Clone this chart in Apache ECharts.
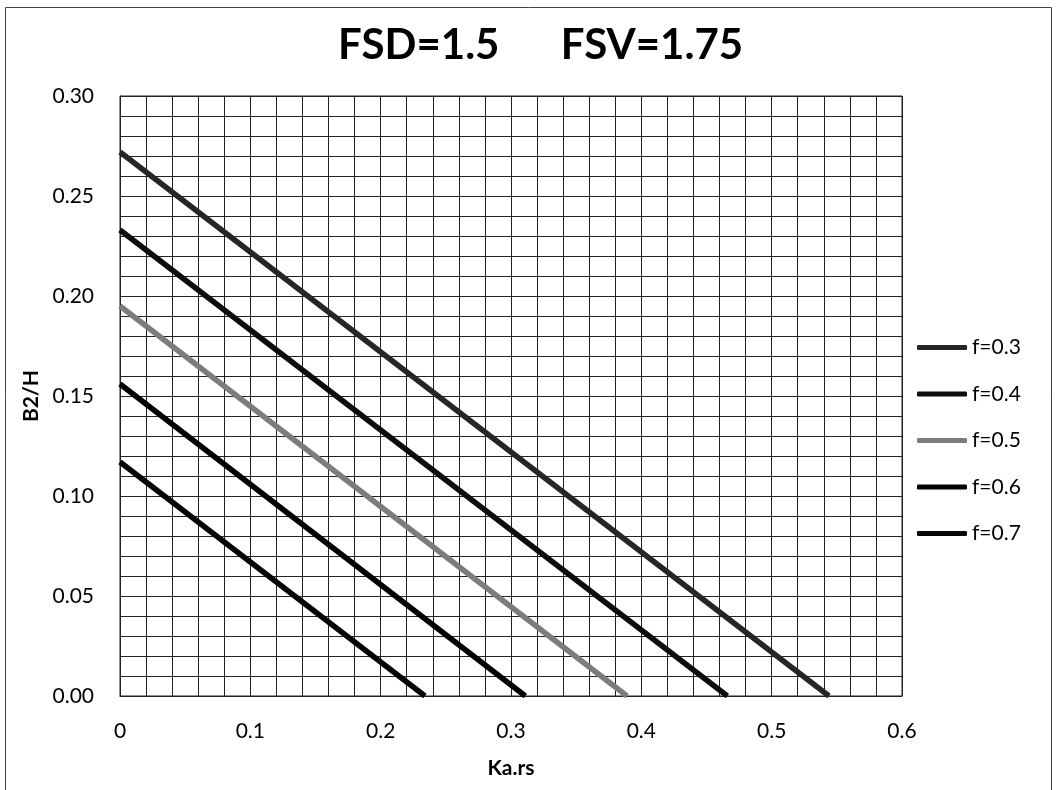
<!DOCTYPE html>
<html>
<head>
<meta charset="utf-8">
<script src="https://cdn.jsdelivr.net/npm/echarts@6/dist/echarts.min.js"></script>
<style>
html,body{margin:0;padding:0;background:#fff;}
#chart{width:1056px;height:790px;}
</style>
</head>
<body>
<div id="chart"></div>
<script>
const seriesNames = ['f=0.3','f=0.4','f=0.5','f=0.6','f=0.7'];
const startB2H = [0.272, 0.233, 0.195, 0.156, 0.117]; // value at Ka.rs = 0
const endKars = [0.544, 0.466, 0.389, 0.311, 0.234];  // Ka.rs where B2/H = 0
const seriesColors = ['#262626', '#0d0d0d', '#7c7c7c', '#000000', '#050505'];
const xTicks = ['0','0.1','0.2','0.3','0.4','0.5','0.6'];
const titleText = 'FSD=1.5      FSV=1.75';

const FONT = 'Lato';
const chart = echarts.init(document.getElementById('chart'));

const series = seriesNames.map((name, i) => ({
  name: name,
  type: 'line',
  data: [[0, startB2H[i]], [endKars[i], 0]],
  showSymbol: false,
  symbol: 'none',
  lineStyle: { width: 5.5, color: seriesColors[i] },
  itemStyle: { color: seriesColors[i] },
  silent: true,
  z: 5
}));

chart.setOption({
  animation: false,
  backgroundColor: '#fff',
  textStyle: { fontFamily: FONT },
  title: {
    text: titleText,
    left: 333,
    top: 19,
    textStyle: { fontFamily: FONT, fontSize: 42, fontWeight: 'bold', color: '#000' }
  },
  graphic: [{
    type: 'rect',
    shape: { x: 5.5, y: 7.5, width: 1046, height: 800 },
    style: { fill: 'none', stroke: '#444', lineWidth: 1 },
    silent: true
  }],
  legend: {
    orient: 'vertical',
    left: 912,
    top: 332,
    itemWidth: 50,
    itemHeight: 5,
    itemGap: 25.5,
    icon: 'roundRect',
    data: seriesNames,
    textStyle: { fontFamily: FONT, fontSize: 21, color: '#000' }
  },
  grid: {
    left: 120, top: 96, right: 154, bottom: 94,
    show: true, borderColor: '#222', borderWidth: 1
  },
  xAxis: {
    type: 'value',
    min: 0, max: 0.6, interval: 0.1,
    name: 'Ka.rs',
    nameLocation: 'middle',
    nameGap: 62,
    nameTextStyle: { fontFamily: FONT, fontSize: 21, fontWeight: 'bold', color: '#000' },
    axisLine: { show: true, lineStyle: { color: '#222', width: 1 } },
    axisTick: { show: false },
    axisLabel: {
      margin: 25,
      fontFamily: FONT, fontSize: 21, color: '#000',
      formatter: function (v) { return xTicks[Math.round(v * 10)]; }
    },
    splitLine: { show: true, lineStyle: { color: '#222', width: 1 } },
    minorTick: { show: false, splitNumber: 5 },
    minorSplitLine: { show: true, lineStyle: { color: '#222', width: 1 } }
  },
  yAxis: {
    type: 'value',
    min: 0, max: 0.3, interval: 0.05,
    name: 'B2/H',
    nameLocation: 'middle',
    nameGap: 77,
    nameRotate: 90,
    nameTextStyle: { fontFamily: FONT, fontSize: 21, fontWeight: 'bold', color: '#000' },
    axisLine: { show: true, lineStyle: { color: '#222', width: 1 } },
    axisTick: { show: false },
    axisLabel: {
      margin: 26,
      fontFamily: FONT, fontSize: 21, color: '#000',
      formatter: function (v) { return v.toFixed(2); }
    },
    splitLine: { show: true, lineStyle: { color: '#222', width: 1 } },
    minorTick: { show: false, splitNumber: 5 },
    minorSplitLine: { show: true, lineStyle: { color: '#222', width: 1 } }
  },
  series: series
});
</script>
</body>
</html>
